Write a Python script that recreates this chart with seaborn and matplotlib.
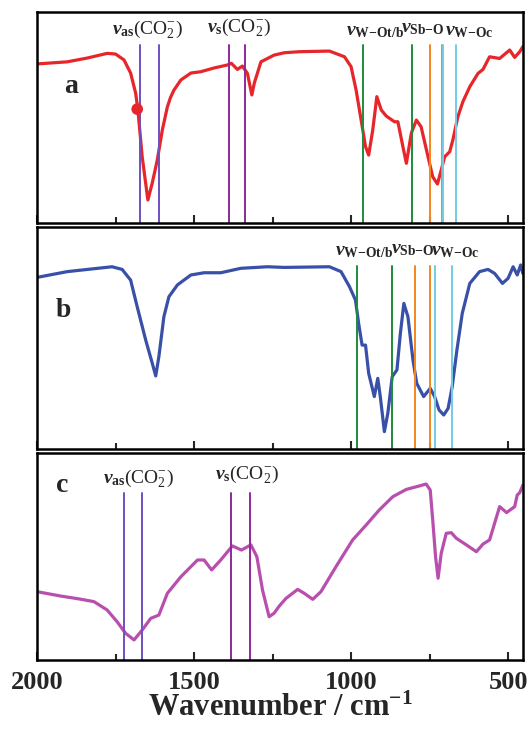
import numpy as np
import pandas as pd
import matplotlib
matplotlib.use("Agg")
import matplotlib.pyplot as plt
from matplotlib.ticker import MultipleLocator
import seaborn as sns

# spectrum a (red)
wn_a = [2000, 1904, 1840, 1777, 1750, 1723, 1702, 1686, 1679, 1665, 1647, 1633, 1617, 1601,
        1585, 1575, 1564, 1542, 1510, 1479, 1436, 1394, 1381, 1362, 1346, 1330, 1316, 1308,
        1287, 1245, 1213, 1165, 1069, 1021, 1000, 984, 968, 954, 944, 931, 918, 904, 888,
        862, 851, 835, 824, 808, 792, 777, 755, 740, 725, 713, 702, 686, 676, 660, 644, 622,
        596, 580, 559, 527, 495, 479, 463, 453]
t_a = [75.4, 76.4, 78.2, 80.4, 80.1, 77.3, 71.1, 61.6, 54.0, 31.3, 10.9, 19.0, 29.9, 44.1,
       55.0, 59.5, 63.0, 67.8, 71.1, 71.7, 73.5, 74.9, 75.7, 72.8, 74.4, 70.9, 60.7, 66.4,
       76.4, 79.6, 80.7, 81.2, 81.5, 78.8, 74.1, 63.0, 48.8, 36.2, 32.2, 44.1, 59.9, 53.6,
       50.7, 48.0, 48.0, 36.2, 28.3, 42.7, 48.8, 45.6, 31.4, 21.9, 18.5, 25.1, 31.4, 33.8,
       39.3, 50.4, 57.5, 64.6, 70.9, 72.8, 78.8, 78.0, 82.0, 78.5, 81.2, 83.6]

# spectrum b (blue)
wn_b = [2000, 1904, 1761, 1729, 1702, 1681, 1654, 1633, 1622, 1612, 1596, 1580, 1553, 1510,
        1468, 1415, 1351, 1266, 1213, 1069, 1032, 1005, 986, 976, 965, 954, 944, 926, 915,
        907, 894, 883, 869, 854, 843, 832, 819, 803, 791, 769, 748, 734, 720, 705, 691, 678,
        663, 646, 622, 591, 564, 543, 518, 500, 484, 471, 460, 453]
t_b = [77.3, 79.9, 82.1, 80.9, 76.1, 64.1, 49.1, 38.6, 32.9, 41.6, 59.6, 68.6, 73.9, 78.4,
       79.4, 79.4, 81.4, 82.1, 81.8, 82.1, 79.9, 73.1, 67.1, 56.6, 46.8, 46.8, 34.1, 23.6,
       31.8, 23.6, 7.8, 16.1, 32.6, 35.6, 52.1, 65.6, 59.6, 40.1, 29.6, 23.6, 27.3, 23.6,
       17.6, 15.3, 18.3, 28.1, 44.6, 61.1, 74.6, 79.9, 80.9, 79.1, 74.6, 76.9, 82.1, 78.4,
       82.9, 79.1]

# spectrum c (magenta)
wn_c = [2000, 1925, 1870, 1819, 1777, 1745, 1718, 1691, 1665, 1638, 1612, 1585, 1542, 1489,
        1468, 1444, 1415, 1378, 1349, 1319, 1300, 1282, 1261, 1245, 1229, 1207, 1170, 1149,
        1122, 1096, 1048, 995, 952, 910, 867, 824, 782, 761, 748, 740, 731, 723, 713, 697,
        681, 665, 633, 601, 580, 559, 527, 505, 479, 471, 463, 453]
t_c = [33.0, 30.9, 29.6, 28.2, 24.2, 18.5, 12.9, 9.7, 14.5, 20.1, 21.7, 32.2, 40.2, 48.3,
       48.3, 43.5, 48.3, 55.1, 53.1, 55.6, 49.9, 33.8, 20.9, 22.6, 26.0, 29.8, 34.1, 32.2,
       29.3, 33.0, 45.1, 58.0, 65.2, 72.5, 78.9, 82.4, 84.1, 85.0, 82.1, 67.6, 49.9, 39.5,
       51.5, 61.2, 61.5, 58.8, 55.6, 52.3, 56.0, 58.0, 74.1, 71.2, 74.1, 79.7, 80.8, 84.5]

# marked point on spectrum a
dot_wn = [1681]
dot_t = [54]

# band positions (cm-1)
vas_a = [1673, 1610]
vs_a = [1388, 1337]
wot_a = [963, 807]
sbo_a = [749, 712]
woc_a = [708, 667]
wot_b = [982, 871]
sbo_b = [795, 749]
woc_b = [732, 678]
vas_c = [1722, 1665]
vs_c = [1382, 1322]

sns.set_style("ticks")
plt.rcParams["font.family"] = ["Liberation Serif", "DejaVu Serif"]
plt.rcParams["mathtext.fontset"] = "custom"
plt.rcParams["mathtext.rm"] = "Liberation Serif"
plt.rcParams["mathtext.it"] = "Liberation Serif:italic:bold"
plt.rcParams["mathtext.bf"] = "Liberation Serif:bold"

c_vas = "#6e50c0"
c_vs = "#8b2a9a"
c_green = "#1e8c3c"
c_orange = "#f5841f"
c_cyan = "#70cde3"

fig = plt.figure(figsize=(5.31, 7.3), dpi=100)
ax_a = fig.add_axes([0.0697, 0.6945, 0.915, 0.289])
ax_b = fig.add_axes([0.0697, 0.385, 0.915, 0.304])
ax_c = fig.add_axes([0.0697, 0.0959, 0.915, 0.2836])

sns.lineplot(x=wn_a, y=t_a, ax=ax_a, color="#e6262b", lw=2.3, sort=False)
sns.lineplot(x=wn_b, y=t_b, ax=ax_b, color="#3850a8", lw=2.3, sort=False)
sns.lineplot(x=wn_c, y=t_c, ax=ax_c, color="#b84fae", lw=2.3, sort=False)
sns.scatterplot(x=dot_wn, y=dot_t, ax=ax_a, color="#e6262b", s=70, edgecolor="none",
                zorder=5)


def vlines(ax, xs, color, top):
    for x in xs:
        ax.axvline(x, ymin=0, ymax=top / 100, color=color, lw=1.4)


vlines(ax_a, vas_a, c_vas, 84.4)
vlines(ax_a, vs_a, c_vs, 84.4)
vlines(ax_a, wot_a, c_green, 84.4)
vlines(ax_a, sbo_a, c_orange, 84.4)
vlines(ax_a, woc_a, c_cyan, 84.4)
vlines(ax_b, wot_b, c_green, 82.4)
vlines(ax_b, sbo_b, c_orange, 82.4)
vlines(ax_b, woc_b, c_cyan, 82.4)
vlines(ax_c, vas_c, c_vas, 80.7)
vlines(ax_c, vs_c, c_vs, 80.7)

lab_kw = dict(fontsize=14, va="center", ha="left")
co2 = "(CO$_2^{-}$)"
ax_a.text(1762, 92, r"$\nu_{\mathbf{as}}$" + co2, **lab_kw)
ax_a.text(1458, 93, r"$\nu_{\mathbf{s}}$" + co2, **lab_kw)
ax_a.text(1015, 91, r"$\nu_{\mathbf{W{-}Ot/b}}$", **lab_kw)
ax_a.text(840, 92, r"$\nu_{\mathbf{Sb{-}O}}$", **lab_kw)
ax_a.text(700, 91, r"$\nu_{\mathbf{W{-}Oc}}$", **lab_kw)
ax_b.text(1050, 89, r"$\nu_{\mathbf{W{-}Ot/b}}$", **lab_kw)
ax_b.text(872, 90, r"$\nu_{\mathbf{Sb{-}O}}$", **lab_kw)
ax_b.text(746, 89, r"$\nu_{\mathbf{W{-}Oc}}$", **lab_kw)
ax_c.text(1790, 88, r"$\nu_{\mathbf{as}}$" + co2, **lab_kw)
ax_c.text(1432, 90, r"$\nu_{\mathbf{s}}$" + co2, **lab_kw)

for ax, letter, (lx, ly) in zip([ax_a, ax_b, ax_c], ["a", "b", "c"],
                                [(1892, 64.5), (1915, 62.6), (1921, 84.5)]):
    ax.text(lx, ly, letter, fontsize=20, fontweight="bold", ha="center", va="center")
    ax.set_xlim(2000, 453)
    ax.set_ylim(0, 100)
    ax.set_yticks([])
    ax.set_ylabel("")
    ax.xaxis.set_major_locator(MultipleLocator(500))
    ax.xaxis.set_minor_locator(MultipleLocator(250))
    ax.tick_params(axis="x", which="major", direction="in", length=6, width=1.5)
    ax.tick_params(axis="x", which="minor", direction="in", length=4, width=1.5)
    for s in ax.spines.values():
        s.set_linewidth(1.8)
        s.set_color("black")
        s.set_visible(True)

ax_a.tick_params(axis="x", labelbottom=False)
ax_b.tick_params(axis="x", labelbottom=False)
for t in ax_c.get_xticklabels():
    t.set_fontsize(19)
    t.set_fontweight("bold")
ax_c.tick_params(axis="x", pad=8)
ax_c.set_xlabel("Wavenumber / cm$^{\\mathbf{-1}}$", fontsize=22, fontweight="bold", labelpad=0)

fig.savefig("out.png", dpi=100)
